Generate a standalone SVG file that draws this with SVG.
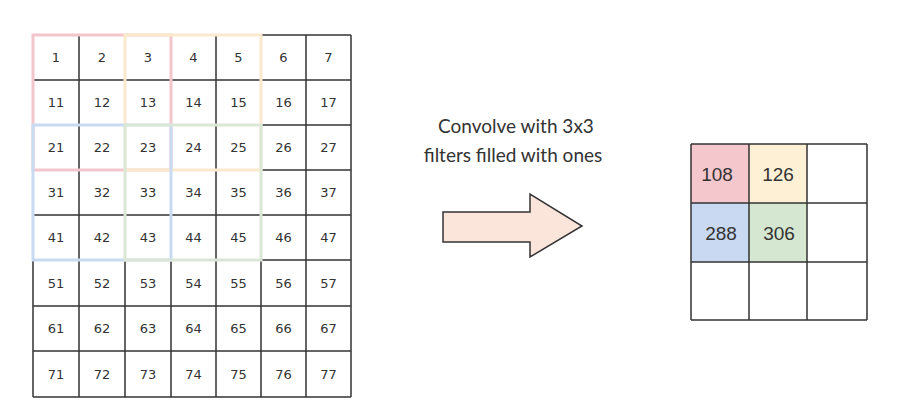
<svg xmlns="http://www.w3.org/2000/svg" width="901" height="416" viewBox="0 0 901 416">
<style>
.g{stroke:#333;stroke-width:1.5;fill:none}
.n{font-family:"DejaVu Sans",sans-serif;font-size:13px;fill:#333;text-anchor:middle}
.w{fill:none;stroke-width:3}
.cap{font-family:Lato,"Liberation Sans",sans-serif;font-size:19px;fill:#333;text-anchor:middle}
.o{font-family:"Liberation Sans",Arial,sans-serif;font-size:19px;fill:#333;text-anchor:middle}
</style>
<rect width="901" height="416" fill="#fff"/>
<g id="input-grid">
<path class="g" d="M33 35V397M79 35V397M125 35V397M171 35V397M216 35V397M261 35V397M306 35V397M351 35V397M33 35H351M33 80H351M33 125H351M33 170H351M33 215H351M33 260H351M33 306H351M33 351H351M33 397H351"/>
<g class="n">
<text x="56" y="62">1</text><text x="102" y="62">2</text><text x="148" y="62">3</text><text x="193.5" y="62">4</text><text x="238.5" y="62">5</text><text x="283.5" y="62">6</text><text x="328.5" y="62">7</text>
<text x="56" y="107">11</text><text x="102" y="107">12</text><text x="148" y="107">13</text><text x="193.5" y="107">14</text><text x="238.5" y="107">15</text><text x="283.5" y="107">16</text><text x="328.5" y="107">17</text>
<text x="56" y="152">21</text><text x="102" y="152">22</text><text x="148" y="152">23</text><text x="193.5" y="152">24</text><text x="238.5" y="152">25</text><text x="283.5" y="152">26</text><text x="328.5" y="152">27</text>
<text x="56" y="197">31</text><text x="102" y="197">32</text><text x="148" y="197">33</text><text x="193.5" y="197">34</text><text x="238.5" y="197">35</text><text x="283.5" y="197">36</text><text x="328.5" y="197">37</text>
<text x="56" y="242">41</text><text x="102" y="242">42</text><text x="148" y="242">43</text><text x="193.5" y="242">44</text><text x="238.5" y="242">45</text><text x="283.5" y="242">46</text><text x="328.5" y="242">47</text>
<text x="56" y="287.5">51</text><text x="102" y="287.5">52</text><text x="148" y="287.5">53</text><text x="193.5" y="287.5">54</text><text x="238.5" y="287.5">55</text><text x="283.5" y="287.5">56</text><text x="328.5" y="287.5">57</text>
<text x="56" y="333">61</text><text x="102" y="333">62</text><text x="148" y="333">63</text><text x="193.5" y="333">64</text><text x="238.5" y="333">65</text><text x="283.5" y="333">66</text><text x="328.5" y="333">67</text>
<text x="56" y="378.5">71</text><text x="102" y="378.5">72</text><text x="148" y="378.5">73</text><text x="193.5" y="378.5">74</text><text x="238.5" y="378.5">75</text><text x="283.5" y="378.5">76</text><text x="328.5" y="378.5">77</text>
</g>
</g>
<g id="windows">
<rect class="w" x="33" y="35" width="138" height="135" stroke="#f2c6cc"/>
<rect class="w" x="125" y="35" width="136" height="135" stroke="#fbe9cd"/>
<rect class="w" x="33" y="125" width="138" height="135" stroke="#c9daf3"/>
<rect class="w" x="125" y="125" width="136" height="135" stroke="#dbe7d6"/>
</g>
<g id="caption">
<text class="cap" x="516" y="133">Convolve with 3x3</text>
<text class="cap" x="513" y="162">filters filled with ones</text>
</g>
<g id="arrow">
<polygon points="443,212 530,212 530,194 582,226 530,257 530,242 443,242" fill="#fbe4da" stroke="#333" stroke-width="1.5" stroke-linejoin="miter"/>
</g>
<g id="output-grid">
<rect x="691" y="144" width="58" height="59" fill="#f4c7cc"/>
<rect x="749" y="144" width="58" height="59" fill="#fdf0d5"/>
<rect x="691" y="203" width="58" height="59" fill="#c9d9f1"/>
<rect x="749" y="203" width="58" height="59" fill="#d6e7d1"/>
<path class="g" d="M691 144V320M749 144V320M807 144V320M867 144V320M691 144H867M691 203H867M691 262H867M691 320H867"/>
<text class="o" x="717" y="181">108</text>
<text class="o" x="778" y="181">126</text>
<text class="o" x="721" y="240">288</text>
<text class="o" x="779" y="240">306</text>
</g>
</svg>
